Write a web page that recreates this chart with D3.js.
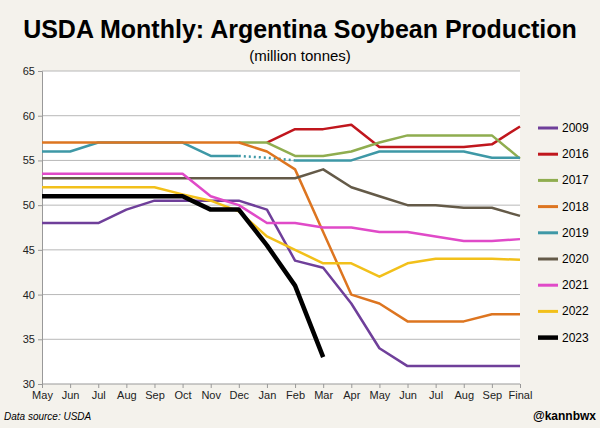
<!DOCTYPE html>
<html><head><meta charset="utf-8">
<script src="https://cdn.jsdelivr.net/npm/d3@7"></script>
<style>body{margin:0;background:#f4f2ec;font-family:"Liberation Sans",Arial,sans-serif;}</style>
</head><body><div id="vis"></div>
<script>
const months = ['May','Jun','Jul','Aug','Sep','Oct','Nov','Dec','Jan','Feb','Mar','Apr','May','Jun','Jul','Aug','Sep','Final'];
const yTicks = [30,35,40,45,50,55,60,65];
const s2009 = [48,48,48,49.5,50.5,50.5,50.5,50.5,49.5,43.8,43,39,34,32,32,32,32,32];
const s2016 = [null,null,null,null,null,null,null,null,57,58.5,58.5,59,56.5,56.5,56.5,56.5,56.8,58.8];
const s2017 = [null,null,null,null,null,null,null,57,57,55.5,55.5,56,57,57.8,57.8,57.8,57.8,55.2];
const s2018 = [57,57,57,57,57,57,57,57,56,54,47,40,39,37,37,37,37.8,37.8];
const s2019 = [56,56,57,57,57,57,55.5,55.5,null,55,55,55,56,56,56,56,55.3,55.3];
const s2019gap = [null,null,null,null,null,null,null,55.5,55.3,55,null,null,null,null,null,null,null,null];
const s2020 = [53,53,53,53,53,53,53,53,53,53,54,52,51,50,50,49.7,49.7,48.8];
const s2021 = [53.5,53.5,53.5,53.5,53.5,53.5,51,50,48,48,47.5,47.5,47,47,46.5,46,46,46.2];
const s2022 = [52,52,52,52,52,51.2,50.5,49.3,46.5,45,43.5,43.5,42,43.5,44,44,44,43.9];
const s2023 = [51,51,51,51,51,51,49.5,49.5,45.5,41,33,null,null,null,null,null,null,null];

const series = [
  {name:'2009', v:s2009, c:'#6f3f9a', w:2.5},
  {name:'2016', v:s2016, c:'#c0161d', w:2.5},
  {name:'2017', v:s2017, c:'#8fad4f', w:2.5},
  {name:'2018', v:s2018, c:'#dd7520', w:2.5},
  {name:'2019', v:s2019, c:'#3e98a6', w:2.5},
  {name:'2020', v:s2020, c:'#645a48', w:2.5},
  {name:'2021', v:s2021, c:'#e04ac8', w:2.5},
  {name:'2022', v:s2022, c:'#f2c01a', w:2.5},
  {name:'2023', v:s2023, c:'#000000', w:4.5}
];
const drawOrder = ['2016','2017','2019','2018','2020','2009','2021','2022','2023'];

const svg = d3.select('#vis').append('svg').attr('width',600).attr('height',428);
const M = {left:42, right:80, top:71, bottom:44};
svg.append('rect').attr('x',M.left).attr('y',M.top).attr('width',600-M.left-M.right).attr('height',428-M.top-M.bottom).attr('fill','#fff');

const x = d3.scalePoint().domain(d3.range(months.length)).range([M.left, 520]);
const y = d3.scaleLinear().domain([30,65]).range([384, 71]);

svg.append('text').attr('x',300).attr('y',38).attr('text-anchor','middle')
  .attr('font-size',25).attr('font-weight','bold').text('USDA Monthly: Argentina Soybean Production');
svg.append('text').attr('x',300).attr('y',61).attr('text-anchor','middle')
  .attr('font-size',15).text('(million tonnes)');

svg.append('g').selectAll('line').data(yTicks.slice(1)).enter().append('line')
  .attr('x1',M.left).attr('x2',520).attr('y1',d=>y(d)).attr('y2',d=>y(d))
  .attr('stroke','#b8b8b8').attr('stroke-width',1);

const yAxis = svg.append('g').attr('transform',`translate(${M.left},0)`)
  .call(d3.axisLeft(y).tickValues(yTicks).tickSize(4));
const xAxis = svg.append('g').attr('transform','translate(0,384)')
  .call(d3.axisBottom(x).tickFormat(i=>months[i]).tickSize(4));
[yAxis,xAxis].forEach(a=>{
  a.selectAll('path,line').attr('stroke','#999');
  a.selectAll('text').attr('font-size',11).attr('fill','#222').attr('font-family','Liberation Sans, Arial');
});
xAxis.select('.domain').attr('d','M42,0H520');

const line = d3.line().defined(d=>d!=null).x((d,i)=>x(i)).y(d=>y(d));
const byName = Object.fromEntries(series.map(s=>[s.name,s]));
drawOrder.forEach(n=>{
  const s = byName[n];
  svg.append('path').attr('d',line(s.v)).attr('fill','none').attr('stroke',s.c)
    .attr('stroke-width',s.w).attr('stroke-linejoin','round');
  if(n==='2019') svg.append('path').attr('d',line(s2019gap)).attr('fill','none')
    .attr('stroke',s.c).attr('stroke-width',2.5).attr('stroke-dasharray','2,3');
});

const lg = svg.append('g').selectAll('g').data(series).enter().append('g')
  .attr('transform',(d,i)=>`translate(538,${128+i*26.2})`);
lg.append('line').attr('x1',0).attr('x2',20).attr('stroke',d=>d.c).attr('stroke-width',d=>d.w===2.5?3:4.5);
lg.append('text').attr('x',24).attr('y',4).attr('font-size',12).text(d=>d.name);

svg.append('text').attr('x',4).attr('y',420).attr('font-size',10).attr('font-style','italic').text('Data source: USDA');
svg.append('text').attr('x',596).attr('y',420).attr('text-anchor','end').attr('font-size',12).attr('font-weight','bold').text('@kannbwx');
</script></body></html>
